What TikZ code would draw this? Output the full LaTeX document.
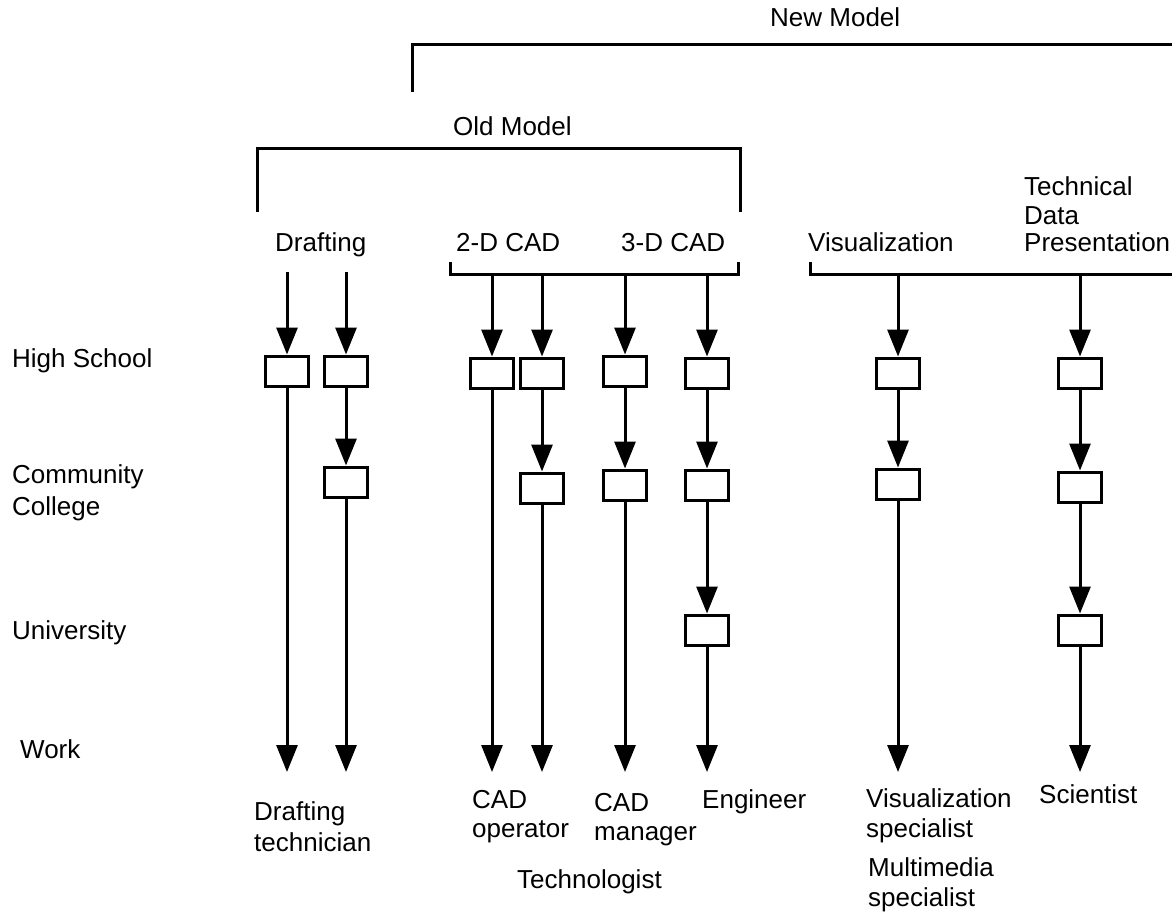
\documentclass[tikz,border=0pt]{standalone}
\usepackage{fontspec}
\setmainfont{Liberation Sans}
\usetikzlibrary{arrows.meta}
\begin{document}
\begin{tikzpicture}[x=1pt,y=-1pt,
  every node/.style={font=\fontsize{26}{30}\selectfont, inner sep=0pt},
  lbl/.style={anchor=base west},
  mlbl/.style={anchor=base west, align=left},
  box/.style={draw, line width=3pt, minimum width=43pt, minimum height=30pt},
  ln/.style={line width=3pt},
  arr/.style={line width=3pt, -{Triangle[width=21pt,length=27pt]}}]
\useasboundingbox (0,0) rectangle (1172,917);
% brackets
\draw[ln] (412,92) -- (412,45) -- (1172,45);
\draw[ln] (257,212) -- (257,149) -- (740,149) -- (740,212);
\draw[ln] (450,262) -- (450,275) -- (738,275) -- (738,262);
\draw[ln] (810,262) -- (810,275) -- (1172,275);
% titles
\node[lbl] (newm) at (770,27) {New Model};
\node[lbl] (oldm) at (453,136) {Old Model};
\node[lbl] (draft) at (275,252) {Drafting};
\node[lbl] (cad2) at (456,252) {2-D CAD};
\node[lbl] (cad3) at (621,252) {3-D CAD};
\node[lbl] (vis) at (808,252) {Visualization};
\node[mlbl, font=\fontsize{26}{28}\selectfont] (tdp) at (1024,252) {Technical\\Data\\Presentation};
% row labels
\node[lbl] (hs) at (12,367) {High School};
\node[mlbl, font=\fontsize{26}{32}\selectfont] (cc) at (12,515) {Community\\College};
\node[lbl] (uni) at (12,639) {University};
\node[lbl] (work) at (20,758) {Work};
% start coordinates
\coordinate (s1) at (287,272);
\coordinate (s2) at (346,272);
\coordinate (s3) at (492,275);
\coordinate (s4) at (542,275);
\coordinate (s5) at (625,275);
\coordinate (s6) at (707,275);
\coordinate (s7) at (898,275);
\coordinate (s8) at (1080,275);
% high school boxes
\node[box] (h1) at (287,371) {};
\node[box] (h2) at (346,371) {};
\node[box] (h3) at (492,373) {};
\node[box] (h4) at (542,373) {};
\node[box] (h5) at (625,371) {};
\node[box] (h6) at (707,373) {};
\node[box] (h7) at (898,373) {};
\node[box] (h8) at (1080,373) {};
% community college boxes
\node[box] (c2) at (346,482) {};
\node[box] (c4) at (542,488) {};
\node[box] (c5) at (625,485) {};
\node[box] (c6) at (707,485) {};
\node[box] (c7) at (898,484) {};
\node[box] (c8) at (1080,487) {};
% university boxes
\node[box] (u6) at (707,630) {};
\node[box] (u8) at (1080,630) {};
% work coordinates
\coordinate (w1) at (287,772);
\coordinate (w2) at (346,772);
\coordinate (w3) at (492,772);
\coordinate (w4) at (542,772);
\coordinate (w5) at (625,772);
\coordinate (w6) at (707,772);
\coordinate (w7) at (898,772);
\coordinate (w8) at (1080,772);
% arrows
\foreach \i in {1,...,8} \draw[arr] (s\i) -- (h\i.north);
\draw[arr] (h1.south) -- (w1);
\draw[arr] (h2.south) -- (c2.north);
\draw[arr] (c2.south) -- (w2);
\draw[arr] (h3.south) -- (w3);
\draw[arr] (h4.south) -- (c4.north);
\draw[arr] (c4.south) -- (w4);
\draw[arr] (h5.south) -- (c5.north);
\draw[arr] (c5.south) -- (w5);
\draw[arr] (h6.south) -- (c6.north);
\draw[arr] (c6.south) -- (u6.north);
\draw[arr] (u6.south) -- (w6);
\draw[arr] (h7.south) -- (c7.north);
\draw[arr] (c7.south) -- (w7);
\draw[arr] (h8.south) -- (c8.north);
\draw[arr] (c8.south) -- (u8.north);
\draw[arr] (u8.south) -- (w8);
% outcomes
\node[mlbl, font=\fontsize{26}{31}\selectfont] (o1) at (254,851) {Drafting\\technician};
\node[mlbl, font=\fontsize{26}{29}\selectfont] (o2) at (472,837) {CAD\\operator};
\node[mlbl, font=\fontsize{26}{29}\selectfont] (o3) at (594,840) {CAD\\manager};
\node[lbl] (o4) at (702,808) {Engineer};
\node[lbl] (o5) at (517,888) {Technologist};
\node[mlbl] (o6) at (866,837) {Visualization\\specialist};
\node[mlbl] (o7) at (868,906) {Multimedia\\specialist};
\node[lbl] (o8) at (1039,803) {Scientist};
\end{tikzpicture}
\end{document}
